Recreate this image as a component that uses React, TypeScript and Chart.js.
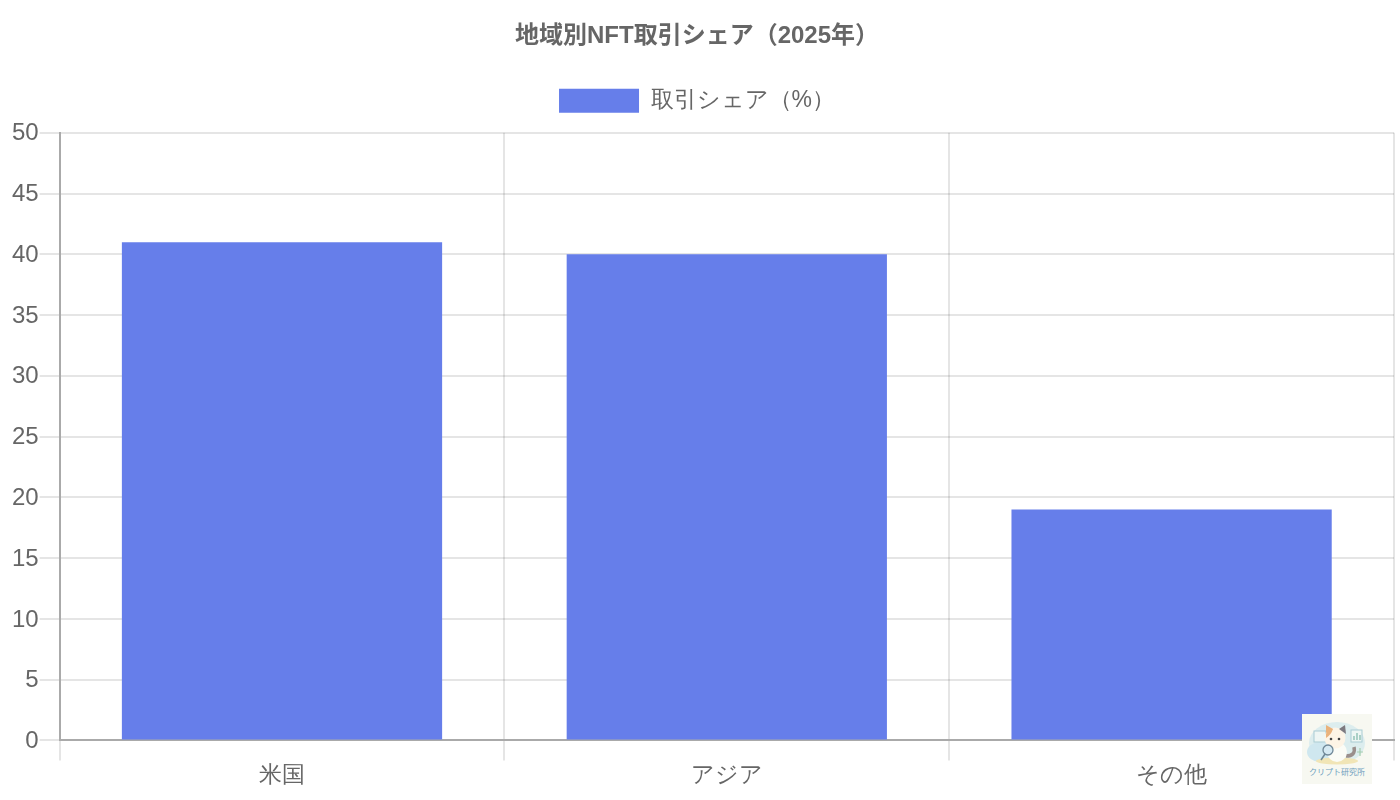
import React, { useEffect, useRef } from 'react';
import Chart from 'chart.js/auto';

const categories = ['米国', 'アジア', 'その他'];
const shareValues = [41, 40, 19];
const chartTitle = '地域別NFT取引シェア（2025年）';
const seriesLabel = '取引シェア（%）';

// extra room between the legend and the plot area
const legendGap = {
  id: 'legendGap',
  beforeInit(chart: any) {
    const fit = chart.legend.fit;
    chart.legend.fit = function () {
      fit.call(this);
      this.height += 10;
    };
  },
};

const Watermark: React.FC = () => (
  <div style={{ position: 'fixed', left: 1302, top: 714, width: 70, height: 70, background: '#f7f8f1', overflow: 'hidden' }}>
    <svg width="70" height="70" style={{ position: 'absolute', left: 0, top: 0 }}>
      <ellipse cx="35" cy="29" rx="28" ry="21" fill="#dcedee" />
      <ellipse cx="18" cy="38" rx="13" ry="10" fill="#cfe7ef" />
      <rect x="12" y="17" width="12" height="11" fill="#eef6f4" stroke="#a9ccd3" strokeWidth="1" />
      <rect x="49" y="16" width="11" height="12" fill="#eef6f4" stroke="#a9ccd3" strokeWidth="1" />
      <path d="M52 26 V22 M55 26 V19 M58 26 V21" stroke="#7fb7a8" strokeWidth="1.2" />
      <ellipse cx="35" cy="47" rx="21" ry="3.5" fill="#f1e5b6" />
      <path d="M44 42 Q54 42 52 33" stroke="#9a8f8c" strokeWidth="3.5" fill="none" />
      <ellipse cx="35" cy="38" rx="10" ry="10" fill="#fbfcf6" />
      <circle cx="33" cy="24" r="10.5" fill="#fdf4e6" />
      <path d="M24 20 Q26 14 31 15 Q29 21 24 24 Z" fill="#e9b27c" />
      <path d="M24 19 L24 11 L31 15 Z" fill="#e9b27c" />
      <path d="M37 15 L43 11 L44 20 Z" fill="#7d7a80" />
      <circle cx="29" cy="25" r="1.3" fill="#444" />
      <circle cx="37" cy="25" r="1.3" fill="#444" />
      <circle cx="26" cy="36" r="5" fill="#d5e9f2" stroke="#6f8796" strokeWidth="1.3" />
      <path d="M23 40 L19 46" stroke="#6f8796" strokeWidth="1.5" />
      <path d="M58 42 V34 M55 38 H61" stroke="#a6cdb0" strokeWidth="1.2" />
    </svg>
    <div style={{ position: 'absolute', left: 0, width: 70, top: 53, textAlign: 'center', fontSize: 8, lineHeight: '10px', color: '#6f9fbe', fontFamily: "'Noto Sans CJK JP', serif", whiteSpace: 'nowrap' }}>
      クリプト研究所
    </div>
  </div>
);

const App: React.FC = () => {
  const chartRef = useRef<HTMLCanvasElement>(null);

  useEffect(() => {
    if (!chartRef.current) return;
    const ctx = chartRef.current.getContext('2d');
    if (!ctx) return;

    const chart = new Chart(ctx, {
      type: 'bar',
      plugins: [legendGap],
      data: {
        labels: categories,
        datasets: [
          {
            label: seriesLabel,
            data: shareValues,
            backgroundColor: '#667eea',
            borderWidth: 0,
          },
        ],
      },
      options: {
        responsive: false,
        animation: false,
        devicePixelRatio: 1,
        layout: { padding: { right: 12, bottom: 10 } },
        plugins: {
          title: {
            display: true,
            text: chartTitle,
            color: '#666',
            font: { size: 24, weight: 'bold', family: "'Liberation Sans', 'Noto Sans CJK JP', sans-serif" },
            padding: { top: 22, bottom: 10 },
          },
          legend: {
            labels: {
              color: '#666',
              boxWidth: 80,
              boxHeight: 24,
              padding: 28,
              font: { size: 23 },
            },
          },
          tooltip: { enabled: false },
        },
        scales: {
          x: {
            ticks: { color: '#666', padding: 1, font: { size: 23 } },
            grid: { color: 'rgba(0,0,0,0.1)', lineWidth: 2, tickLength: 20 },
            border: { color: '#aaa', width: 2 },
          },
          y: {
            min: 0,
            max: 50,
            ticks: { stepSize: 5, color: '#666', padding: 1, labelOffset: 1, font: { size: 24 } },
            grid: { color: 'rgba(0,0,0,0.1)', lineWidth: 2, tickLength: 20 },
            border: { color: '#aaa', width: 2 },
            afterFit: (scale) => {
              scale.width = 59.6;
            },
          },
        },
      },
    });

    return () => {
      chart.destroy();
    };
  }, []);

  return (
    <div style={{ position: 'fixed', left: 0, top: 0, width: 1400, height: 800, background: '#fff', overflow: 'hidden' }}>
      <canvas ref={chartRef} width={1406} height={800} style={{ display: 'block' }} />
      <Watermark />
    </div>
  );
};

export default App;
